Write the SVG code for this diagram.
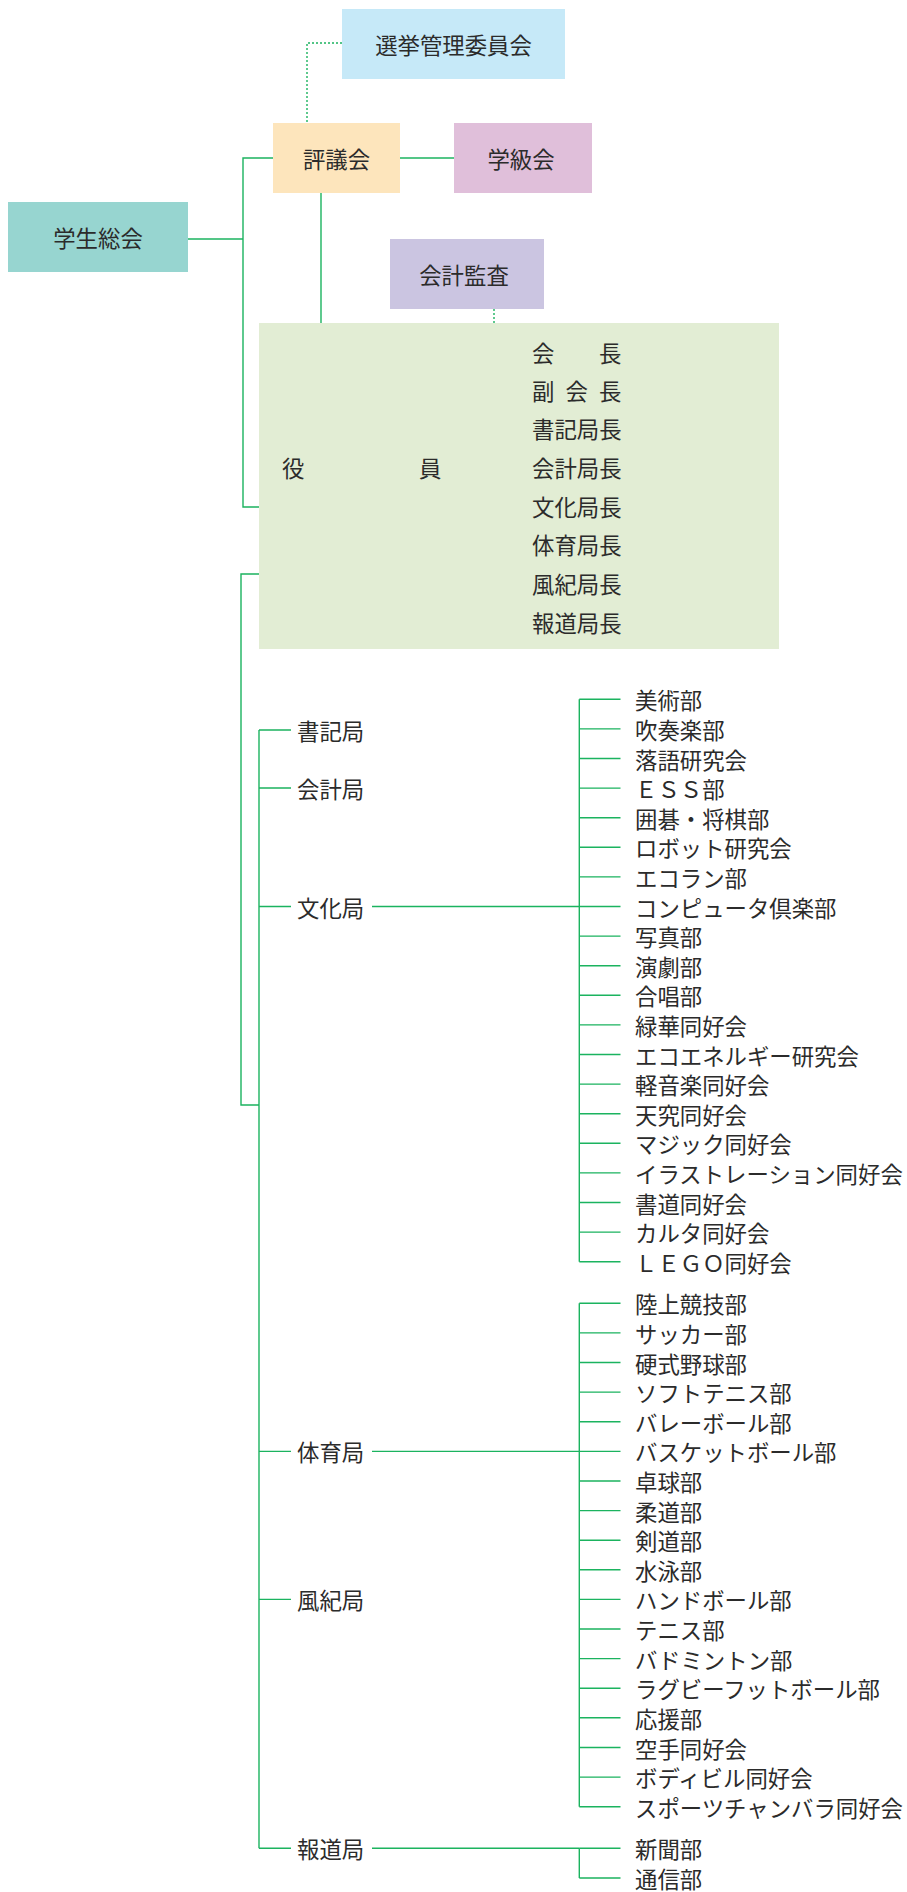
<svg xmlns="http://www.w3.org/2000/svg" width="907" height="1892" viewBox="0 0 907 1892">
<style>
.t{font-family:"Noto Sans CJK JP","Noto Sans CJK SC",sans-serif;font-size:22.4px;fill:#2b2b2b;dominant-baseline:central}
.c{text-anchor:middle}
.ln{stroke:#1bb35f;stroke-width:1.4;fill:none}
.dt{stroke:#1bb35f;stroke-width:1.4;fill:none;stroke-dasharray:2 2}
</style>
<rect width="907" height="1892" fill="#ffffff"/>
<g id="connectors">
<path class="dt" d="M342,43 H307 V123"/>
<path class="dt" d="M494,309 V323"/>
<path class="ln" d="M400,158 H454"/>
<path class="ln" d="M188,239 H243"/>
<path class="ln" d="M273,158 H243 V507 H259"/>
<path class="ln" d="M321,193 V323"/>
<path class="ln" d="M259,574 H241 V1105 H259"/>
<path class="ln" d="M259,730 V1848.3"/>
<path class="ln" d="M259,730 H291 M259,788 H291 M259,906.5 H291 M259,1451.4 H291 M259,1599.4 H291 M259,1848.3 H291"/>
<path class="ln" d="M372,906.5 H579.3 M372,1451.4 H579.3 M372,1848.3 H579.3"/>
<path class="ln" d="M579.3,699.3 V1261.7 M579.3,1303.3 V1806.7 M579.3,1848.3 V1878"/>
<path class="ln" d="M579.3,699.3 H620.5 M579.3,728.9 H620.5 M579.3,758.5 H620.5 M579.3,788.1 H620.5 M579.3,817.7 H620.5 M579.3,847.3 H620.5 M579.3,876.9 H620.5 M579.3,906.5 H620.5 M579.3,936.1 H620.5 M579.3,965.7 H620.5 M579.3,995.3 H620.5 M579.3,1024.9 H620.5 M579.3,1054.5 H620.5 M579.3,1084.1 H620.5 M579.3,1113.7 H620.5 M579.3,1143.3 H620.5 M579.3,1172.9 H620.5 M579.3,1202.5 H620.5 M579.3,1232.1 H620.5 M579.3,1261.7 H620.5"/>
<path class="ln" d="M579.3,1303.3 H620.5 M579.3,1332.9 H620.5 M579.3,1362.5 H620.5 M579.3,1392.1 H620.5 M579.3,1421.7 H620.5 M579.3,1451.4 H620.5 M579.3,1481 H620.5 M579.3,1510.6 H620.5 M579.3,1540.2 H620.5 M579.3,1569.8 H620.5 M579.3,1599.4 H620.5 M579.3,1629 H620.5 M579.3,1658.6 H620.5 M579.3,1688.2 H620.5 M579.3,1717.8 H620.5 M579.3,1747.5 H620.5 M579.3,1777.1 H620.5 M579.3,1806.7 H620.5"/>
<path class="ln" d="M579.3,1848.3 H620.5 M579.3,1878 H620.5"/>
</g>
<g id="senkyo"><rect x="342" y="9" width="223" height="70" fill="#c6e9f8"/><text class="t c" x="453.5" y="44">選挙管理委員会</text></g>
<g id="hyogikai"><rect x="273" y="123" width="127" height="70" fill="#fde5bc"/><text class="t c" x="336.5" y="158">評議会</text></g>
<g id="gakkyukai"><rect x="454" y="123" width="138" height="70" fill="#e0bfda"/><text class="t c" x="521" y="158">学級会</text></g>
<g id="seitosokai"><rect x="8" y="202" width="180" height="70" fill="#97d5d0"/><text class="t c" x="98" y="237">学生総会</text></g>
<g id="kaikei-kansa"><rect x="390" y="239" width="154" height="70" fill="#cbc5e1"/><text class="t c" x="464" y="274">会計監査</text></g>
<g id="yakuin">
<rect x="259" y="323" width="520" height="326" fill="#e2edd4"/>
<text class="t" x="282" y="466.7">役</text>
<text class="t" x="419" y="466.7">員</text>
<text class="t" y="351.7"><tspan x="532">会</tspan><tspan x="599">長</tspan></text>
<text class="t" y="390"><tspan x="532">副</tspan><tspan x="565.5">会</tspan><tspan x="599">長</tspan></text>
<text class="t" x="532" y="428.3">書記局長</text>
<text class="t" x="532" y="466.7">会計局長</text>
<text class="t" x="532" y="505.5">文化局長</text>
<text class="t" x="532" y="544">体育局長</text>
<text class="t" x="532" y="582.7">風紀局長</text>
<text class="t" x="532" y="621.5">報道局長</text>
</g>
<g id="bureaus">
<text class="t" x="297" y="730">書記局</text>
<text class="t" x="297" y="788">会計局</text>
<text class="t" x="297" y="906.5">文化局</text>
<text class="t" x="297" y="1451.4">体育局</text>
<text class="t" x="297" y="1599.4">風紀局</text>
<text class="t" x="297" y="1848.3">報道局</text>
</g>
<g id="culture-clubs">
<text class="t" x="635" y="699.3">美術部</text>
<text class="t" x="635" y="728.9">吹奏楽部</text>
<text class="t" x="635" y="758.5">落語研究会</text>
<text class="t" x="635" y="788.1">ＥＳＳ部</text>
<text class="t" x="635" y="817.7">囲碁・将棋部</text>
<text class="t" x="635" y="847.3">ロボット研究会</text>
<text class="t" x="635" y="876.9">エコラン部</text>
<text class="t" x="635" y="906.5">コンピュータ倶楽部</text>
<text class="t" x="635" y="936.1">写真部</text>
<text class="t" x="635" y="965.7">演劇部</text>
<text class="t" x="635" y="995.3">合唱部</text>
<text class="t" x="635" y="1024.9">緑華同好会</text>
<text class="t" x="635" y="1054.5">エコエネルギー研究会</text>
<text class="t" x="635" y="1084.1">軽音楽同好会</text>
<text class="t" x="635" y="1113.7">天究同好会</text>
<text class="t" x="635" y="1143.3">マジック同好会</text>
<text class="t" x="635" y="1172.9">イラストレーション同好会</text>
<text class="t" x="635" y="1202.5">書道同好会</text>
<text class="t" x="635" y="1232.1">カルタ同好会</text>
<text class="t" x="635" y="1261.7">ＬＥＧＯ同好会</text>
</g>
<g id="sports-clubs">
<text class="t" x="635" y="1303.3">陸上競技部</text>
<text class="t" x="635" y="1332.9">サッカー部</text>
<text class="t" x="635" y="1362.5">硬式野球部</text>
<text class="t" x="635" y="1392.1">ソフトテニス部</text>
<text class="t" x="635" y="1421.7">バレーボール部</text>
<text class="t" x="635" y="1451.4">バスケットボール部</text>
<text class="t" x="635" y="1481">卓球部</text>
<text class="t" x="635" y="1510.6">柔道部</text>
<text class="t" x="635" y="1540.2">剣道部</text>
<text class="t" x="635" y="1569.8">水泳部</text>
<text class="t" x="635" y="1599.4">ハンドボール部</text>
<text class="t" x="635" y="1629">テニス部</text>
<text class="t" x="635" y="1658.6">バドミントン部</text>
<text class="t" x="635" y="1688.2">ラグビーフットボール部</text>
<text class="t" x="635" y="1717.8">応援部</text>
<text class="t" x="635" y="1747.5">空手同好会</text>
<text class="t" x="635" y="1777.1">ボディビル同好会</text>
<text class="t" x="635" y="1806.7">スポーツチャンバラ同好会</text>
</g>
<g id="press-clubs">
<text class="t" x="635" y="1848.3">新聞部</text>
<text class="t" x="635" y="1878">通信部</text>
</g>
</svg>
